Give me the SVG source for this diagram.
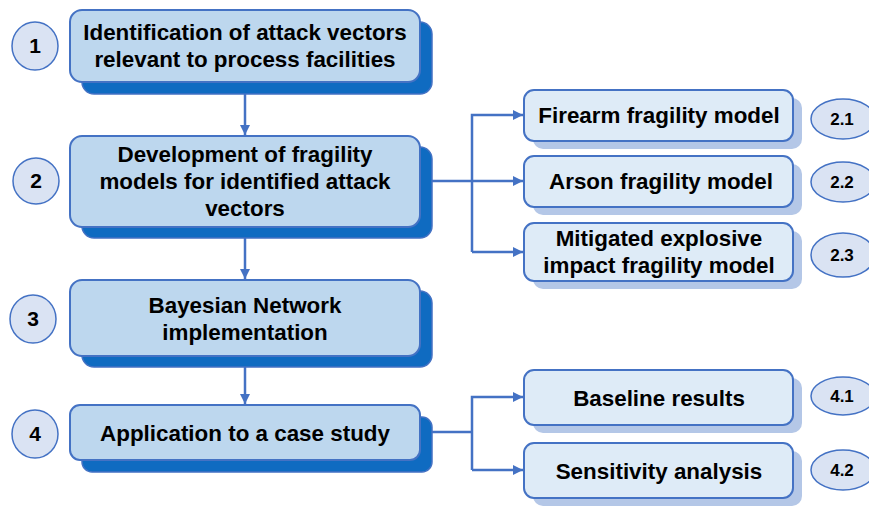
<svg xmlns="http://www.w3.org/2000/svg" width="869" height="509" viewBox="0 0 869 509">
<style>
.sh{fill:#0F6BC1;stroke:#4472C4;stroke-width:1.5}
.bx{fill:#BDD7EE;stroke:#4472C4;stroke-width:2}
.sh2{fill:#B4C7E7}
.bx2{fill:#DEEBF7;stroke:#4472C4;stroke-width:2}
.num{fill:#DAE3F3;stroke:#4472C4;stroke-width:1.5}
.t{font-family:"Liberation Sans",Arial,sans-serif;font-weight:bold;fill:#000;text-anchor:middle}
.tl{font-size:22.4px}
.ts{font-size:22.4px}
.tn{font-size:21px}
.tn2{font-size:17px}
.c{fill:none;stroke:#4472C4;stroke-width:2.5}
</style>
<defs>
<marker id="ah" viewBox="0 0 10 10" refX="10" refY="5" markerWidth="4" markerHeight="4" orient="auto" markerUnits="strokeWidth">
<path d="M0,0 L10,5 L0,10 z" fill="#4472C4"/>
</marker>
</defs>
<g id="connectors">
<path class="c" d="M245,94 L245,135" marker-end="url(#ah)"/>
<path class="c" d="M245,238 L245,279" marker-end="url(#ah)"/>
<path class="c" d="M245,367 L245,404" marker-end="url(#ah)"/>
<path class="c" d="M432,181 L523,181" marker-end="url(#ah)"/>
<path class="c" d="M472,252 L472,115 L523,115" marker-end="url(#ah)"/>
<path class="c" d="M472,252 L523,252" marker-end="url(#ah)"/>
<path class="c" d="M432,432 L472,432"/>
<path class="c" d="M472,470 L472,397 L523,397" marker-end="url(#ah)"/>
<path class="c" d="M472,470 L523,470" marker-end="url(#ah)"/>
</g>
<g id="n1">
<rect class="sh" x="82" y="22" width="350" height="72" rx="12"/>
<rect class="bx" x="70" y="10" width="350" height="72" rx="12"/>
<text class="t tl" x="245" y="40">Identification of attack vectors</text>
<text class="t tl" x="245" y="67">relevant to process facilities</text>
</g>
<g id="c1"><ellipse class="num" cx="35" cy="46" rx="23" ry="24"/><text class="t tn" x="35" y="53">1</text></g>
<g id="n2">
<rect class="sh" x="82" y="147" width="350" height="91" rx="12"/>
<rect class="bx" x="70" y="136" width="350" height="91" rx="12"/>
<text class="t tl" x="245" y="162">Development of fragility</text>
<text class="t tl" x="245" y="189">models for identified attack</text>
<text class="t tl" x="245" y="216">vectors</text>
</g>
<g id="c2"><ellipse class="num" cx="36" cy="181" rx="23" ry="23"/><text class="t tn" x="36" y="188">2</text></g>
<g id="n3">
<rect class="sh" x="82" y="291" width="350" height="76" rx="12"/>
<rect class="bx" x="70" y="280" width="350" height="76" rx="12"/>
<text class="t tl" x="245" y="313">Bayesian Network</text>
<text class="t tl" x="245" y="340">implementation</text>
</g>
<g id="c3"><ellipse class="num" cx="33" cy="319" rx="23" ry="24"/><text class="t tn" x="33" y="326">3</text></g>
<g id="n4">
<rect class="sh" x="82" y="417" width="350" height="55" rx="10"/>
<rect class="bx" x="70" y="405" width="350" height="55" rx="10"/>
<text class="t tl" x="245" y="441">Application to a case study</text>
</g>
<g id="c4"><ellipse class="num" cx="35" cy="434" rx="23" ry="24"/><text class="t tn" x="35" y="441">4</text></g>
<g id="n21">
<rect class="sh2" x="533" y="98" width="269" height="51" rx="10"/>
<rect class="bx2" x="524" y="90" width="269" height="51" rx="10"/>
<text class="t ts" x="659" y="123">Firearm fragility model</text>
</g>
<g id="c21"><ellipse class="num" cx="843" cy="119" rx="32" ry="20"/><text class="t tn2" x="842" y="125">2.1</text></g>
<g id="n22">
<rect class="sh2" x="533" y="164" width="269" height="51" rx="10"/>
<rect class="bx2" x="524" y="156" width="269" height="51" rx="10"/>
<text class="t ts" x="661" y="189">Arson fragility model</text>
</g>
<g id="c22"><ellipse class="num" cx="843" cy="182" rx="32" ry="20"/><text class="t tn2" x="842" y="188">2.2</text></g>
<g id="n23">
<rect class="sh2" x="533" y="231" width="269" height="58" rx="10"/>
<rect class="bx2" x="524" y="223" width="269" height="58" rx="10"/>
<text class="t ts" x="659" y="246">Mitigated explosive</text>
<text class="t ts" x="659" y="273">impact fragility model</text>
</g>
<g id="c23"><ellipse class="num" cx="843" cy="255" rx="32" ry="22"/><text class="t tn2" x="842" y="261">2.3</text></g>
<g id="n41">
<rect class="sh2" x="533" y="378" width="269" height="55" rx="10"/>
<rect class="bx2" x="524" y="370" width="269" height="55" rx="10"/>
<text class="t ts" x="659" y="406">Baseline results</text>
</g>
<g id="c41"><ellipse class="num" cx="843" cy="396" rx="32" ry="19"/><text class="t tn2" x="842" y="402">4.1</text></g>
<g id="n42">
<rect class="sh2" x="533" y="451" width="269" height="55" rx="10"/>
<rect class="bx2" x="524" y="443" width="269" height="55" rx="10"/>
<text class="t ts" x="659" y="479">Sensitivity analysis</text>
</g>
<g id="c42"><ellipse class="num" cx="843" cy="470" rx="32" ry="20"/><text class="t tn2" x="842" y="476">4.2</text></g>
</svg>
